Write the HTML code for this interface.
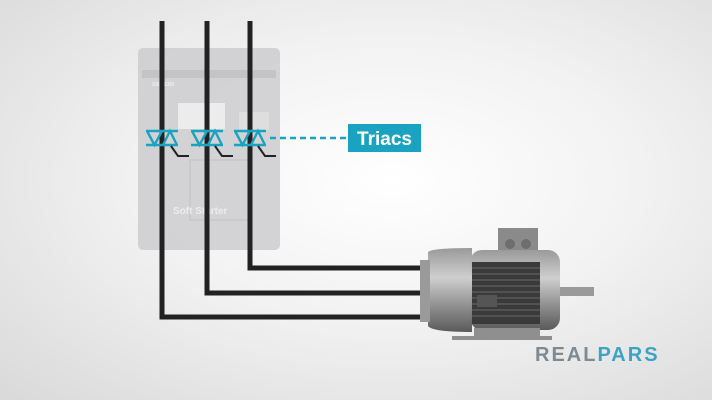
<!DOCTYPE html>
<html><head><style>
body{margin:0;width:712px;height:400px;overflow:hidden;background:radial-gradient(ellipse at 55% 45%,#ffffff 0%,#f2f2f2 45%,#d9d9da 100%);font-family:"Liberation Sans",sans-serif}
</style></head><body>
<svg width="712" height="400" viewBox="0 0 712 400" style="position:absolute;left:0;top:0">
<defs>
<linearGradient id="mg" x1="0" y1="0" x2="0" y2="1"><stop offset="0" stop-color="#9a9a9a"/><stop offset="0.35" stop-color="#cfcfcf"/><stop offset="0.7" stop-color="#8e8e8e"/><stop offset="1" stop-color="#5a5a5a"/></linearGradient>
</defs>
<rect x="138" y="48" width="142" height="202" rx="5" fill="#cdcdcf" opacity="0.85"/>
<rect x="142" y="70" width="134" height="8" fill="#c4c4c6"/>
<text x="152" y="86" font-size="5" fill="#eee" font-weight="bold">SIEMENS</text>
<rect x="178" y="103" width="47" height="26" fill="#ececec"/>
<rect x="239" y="112" width="30" height="18" fill="#dedede"/>
<rect x="190" y="160" width="60" height="60" fill="none" stroke="#c0c0c2"/>
<text x="173" y="214" font-size="10" font-weight="bold" fill="#ececec">Soft Starter</text>
<g stroke="#222" stroke-width="5" fill="none">
<path d="M162 21 V317 H422"/>
<path d="M207 21 V293 H422"/>
<path d="M250 21 V268 H422"/>
</g>
<g stroke="#1aa3c0" stroke-width="2.4" fill="none">
<g transform="translate(162,138)"><path d="M-16 -7 H16 M-16 7 H16 M-15 -7 L-7.5 7 L0 -7 M1 7 L8 -7 L15 7"/></g>
<g transform="translate(207,138)"><path d="M-16 -7 H16 M-16 7 H16 M-15 -7 L-7.5 7 L0 -7 M1 7 L8 -7 L15 7"/></g>
<g transform="translate(250,138)"><path d="M-16 -7 H16 M-16 7 H16 M-15 -7 L-7.5 7 L0 -7 M1 7 L8 -7 L15 7"/></g>
<path d="M270 138 H348" stroke-dasharray="6,4"/>
</g>
<g stroke="#222" stroke-width="2" fill="none">
<path d="M171 146 L178 156 H189"/><path d="M215 146 L222 156 H233"/><path d="M258 146 L265 156 H276"/>
</g>
<rect x="348" y="124" width="73" height="28" fill="#1aa3c0"/>
<text x="384.5" y="145" font-size="19" font-weight="bold" fill="#fff" text-anchor="middle">Triacs</text>
<rect x="498" y="228" width="40" height="24" fill="#8a8a8a"/>
<circle cx="510" cy="244" r="5" fill="#6e6e6e"/><circle cx="526" cy="244" r="5" fill="#6e6e6e"/>
<path d="M428 252 Q432 248 472 248 V332 Q432 332 428 326 Z" fill="url(#mg)"/>
<rect x="420" y="260" width="10" height="62" fill="#9a9a9a"/>
<rect x="470" y="250" width="90" height="80" rx="12" fill="url(#mg)"/>
<rect x="472" y="262" width="68" height="62" fill="#3a3a3a"/>
<g stroke="#6a6a6a" stroke-width="1">
<path d="M472 268H540M472 274H540M472 280H540M472 286H540M472 292H540M472 298H540M472 304H540M472 310H540M472 316H540"/>
</g>
<rect x="477" y="295" width="20" height="12" fill="#555"/>
<rect x="474" y="328" width="66" height="10" fill="#8f8f8f"/>
<rect x="452" y="336" width="100" height="4" fill="#8f8f8f"/>
<rect x="560" y="287" width="34" height="9" fill="#9a9a9a"/>
<text x="535" y="361" font-size="20" font-weight="bold" fill="#7d8a93" letter-spacing="2">REAL<tspan fill="#3ca3c3">PARS</tspan></text>
</svg>
</body></html>
